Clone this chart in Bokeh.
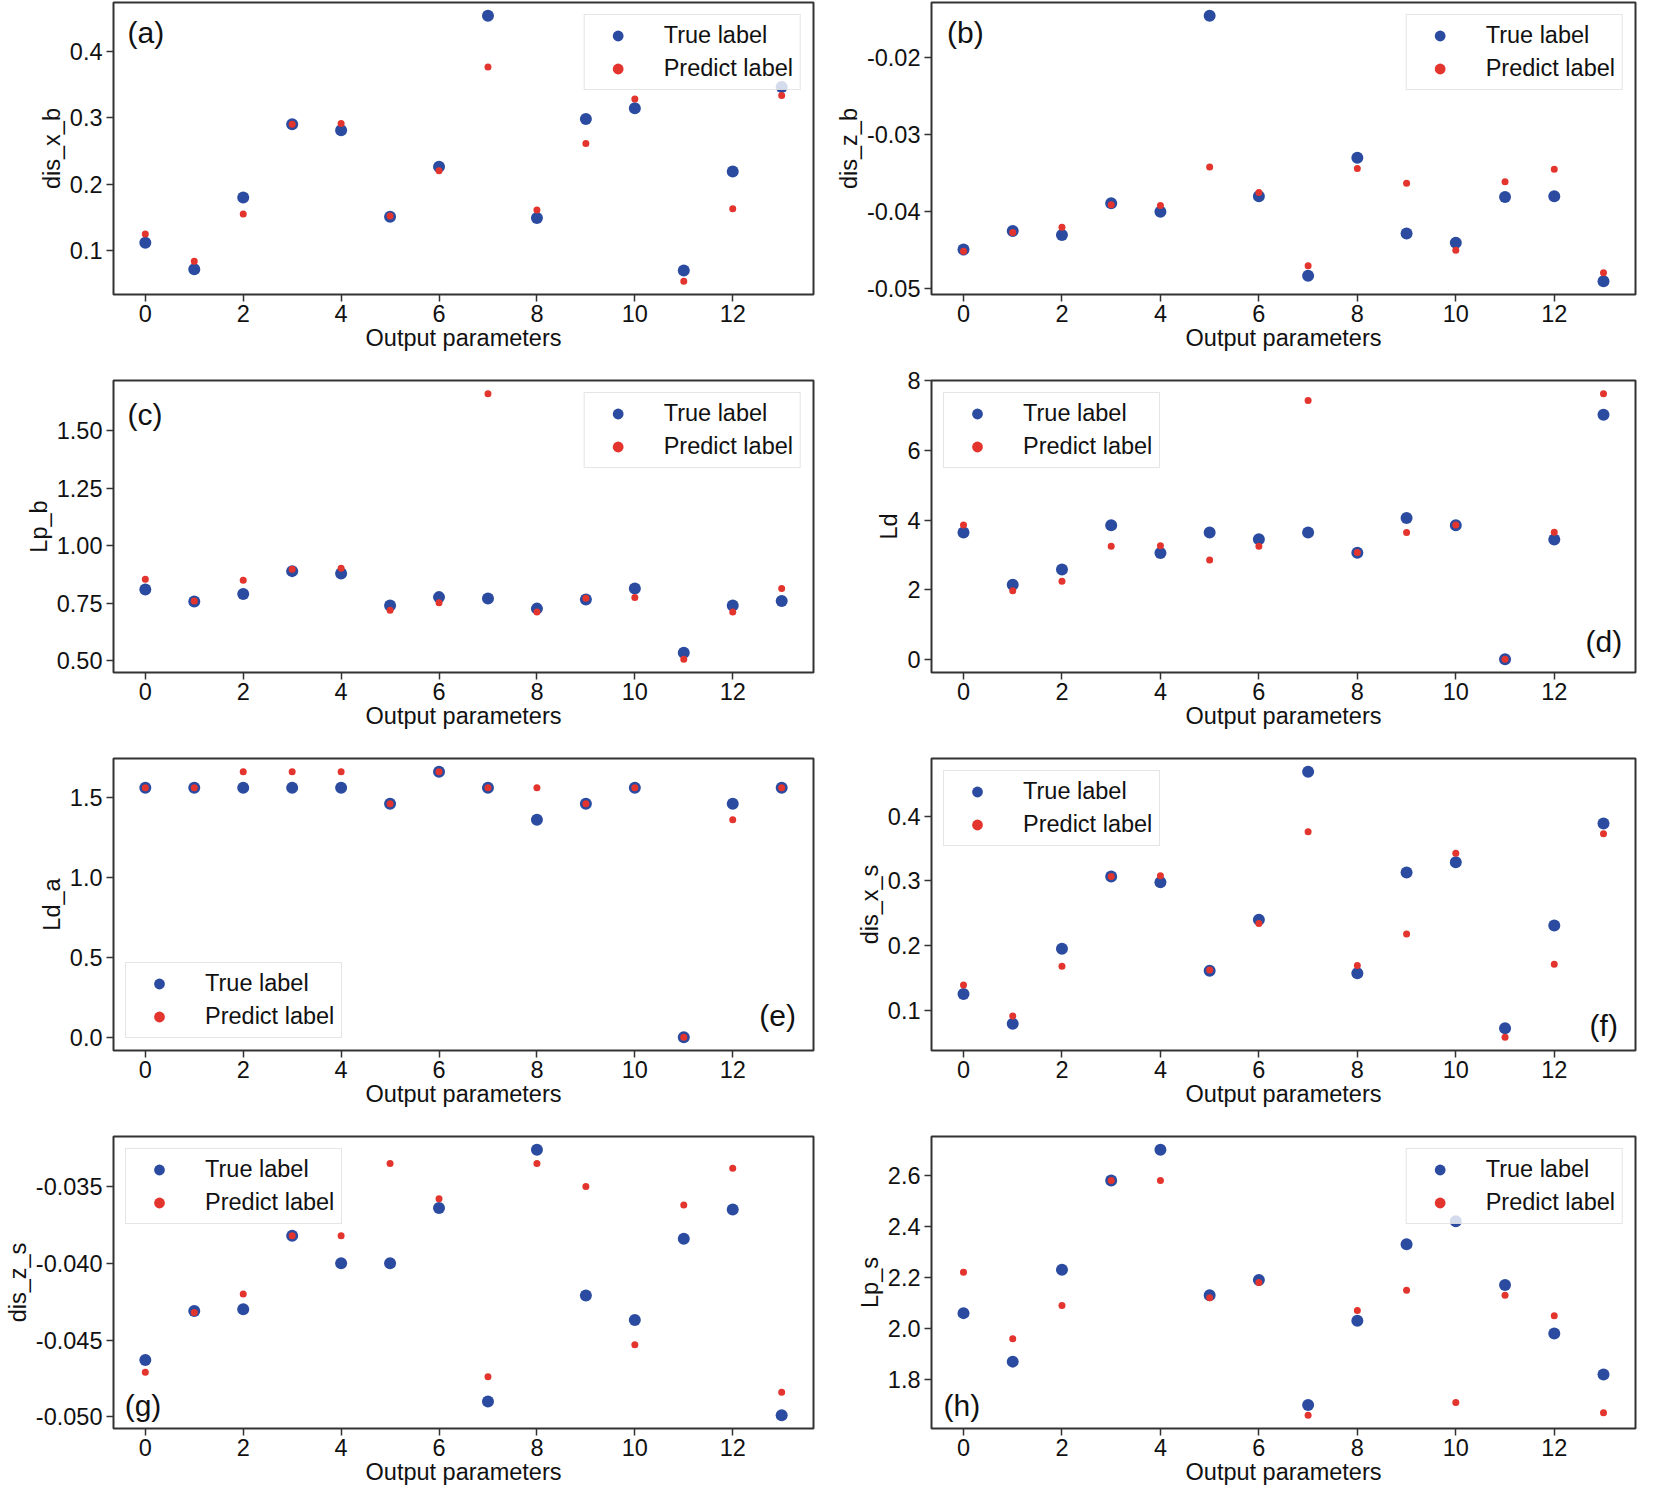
from bokeh.plotting import figure
from bokeh.layouts import column, row
from bokeh.models import FixedTicker, PrintfTickFormatter, Legend, LegendItem, Label
from bokeh.embed import file_html
from bokeh.resources import INLINE

# ---------------- data ----------------
x_params = list(range(14))
x_ticks = [0, 2, 4, 6, 8, 10, 12]
x_label = "Output parameters"
series_labels = ["True label", "Predict label"]

true_a = [0.112, 0.072, 0.180, 0.290, 0.281, 0.151, 0.226, 0.453, 0.149, 0.298, 0.314, 0.070, 0.219, 0.346]
pred_a = [0.125, 0.084, 0.155, 0.290, 0.291, 0.152, 0.220, 0.376, 0.161, 0.261, 0.328, 0.054, 0.163, 0.333]

true_b = [-0.0449, -0.0425, -0.0430, -0.0389, -0.0400, -0.0146, -0.0380, -0.0483, -0.0330, -0.0428, -0.0440, -0.0381, -0.0380, -0.0490]
pred_b = [-0.0451, -0.0427, -0.0420, -0.0391, -0.0392, -0.0342, -0.0375, -0.0470, -0.0344, -0.0363, -0.0450, -0.0361, -0.0345, -0.0479]

true_c = [0.809, 0.757, 0.790, 0.889, 0.879, 0.740, 0.776, 0.770, 0.726, 0.766, 0.813, 0.534, 0.740, 0.759]
pred_c = [0.854, 0.759, 0.849, 0.897, 0.901, 0.719, 0.751, 1.660, 0.711, 0.771, 0.774, 0.506, 0.711, 0.814]

true_d = [3.64, 2.14, 2.58, 3.85, 3.05, 3.64, 3.45, 3.64, 3.06, 4.06, 3.85, 0.0, 3.44, 7.03]
pred_d = [3.86, 1.97, 2.24, 3.25, 3.26, 2.85, 3.25, 7.44, 3.07, 3.64, 3.86, 0.0, 3.65, 7.63]

true_e = [1.56, 1.56, 1.56, 1.56, 1.56, 1.46, 1.66, 1.56, 1.36, 1.46, 1.56, 0.0, 1.46, 1.56]
pred_e = [1.56, 1.56, 1.66, 1.66, 1.66, 1.46, 1.66, 1.56, 1.56, 1.46, 1.56, 0.0, 1.36, 1.56]

true_f = [0.125, 0.079, 0.195, 0.307, 0.298, 0.161, 0.240, 0.469, 0.157, 0.313, 0.329, 0.072, 0.231, 0.389]
pred_f = [0.139, 0.091, 0.168, 0.307, 0.308, 0.162, 0.234, 0.376, 0.169, 0.218, 0.343, 0.058, 0.171, 0.373]

true_g = [-0.0463, -0.0431, -0.0430, -0.0382, -0.0400, -0.0400, -0.0364, -0.0490, -0.0326, -0.0421, -0.0437, -0.0384, -0.0365, -0.0499]
pred_g = [-0.0471, -0.0432, -0.0420, -0.0382, -0.0382, -0.0335, -0.0358, -0.0474, -0.0335, -0.0350, -0.0453, -0.0362, -0.0338, -0.0484]

true_h = [2.06, 1.87, 2.23, 2.58, 2.70, 2.13, 2.19, 1.70, 2.03, 2.33, 2.42, 2.17, 1.98, 1.82]
pred_h = [2.22, 1.96, 2.09, 2.58, 2.58, 2.12, 2.18, 1.66, 2.07, 2.15, 1.71, 2.13, 2.05, 1.67]

yticks_a = [0.1, 0.2, 0.3, 0.4]
yticks_b = [-0.05, -0.04, -0.03, -0.02]
yticks_c = [0.5, 0.75, 1.0, 1.25, 1.5]
yticks_d = [0, 2, 4, 6, 8]
yticks_e = [0.0, 0.5, 1.0, 1.5]
yticks_f = [0.1, 0.2, 0.3, 0.4]
yticks_g = [-0.05, -0.045, -0.04, -0.035]
yticks_h = [1.8, 2.0, 2.2, 2.4, 2.6]

# ---------------- style ----------------
FONT = "Liberation Sans, Arial, sans-serif"
FS = "23.5px"
BLUE = "#2b4ba0"
RED = "#e3352e"
INK = "#111111"
SPINE = "#333333"

panels = [
    dict(tag="a", ylabel="dis_x_b", t=true_a, p=pred_a, yt=yticks_a, fmt="%.1f", leg="top_right",
         anc=("left", "top"), fx=0.02, fy=0.954),
    dict(tag="b", ylabel="dis_z_b", t=true_b, p=pred_b, yt=yticks_b, fmt="%.2f", leg="top_right",
         anc=("left", "top"), fx=0.022, fy=0.954),
    dict(tag="c", ylabel="Lp_b", t=true_c, p=pred_c, yt=yticks_c, fmt="%.2f", leg="top_right",
         anc=("left", "top"), fx=0.02, fy=0.94),
    dict(tag="d", ylabel="Ld", t=true_d, p=pred_d, yt=yticks_d, fmt="%d", leg="top_left",
         anc=("right", "bottom"), fx=0.981, fy=0.05),
    dict(tag="e", ylabel="Ld_a", t=true_e, p=pred_e, yt=yticks_e, fmt="%.1f", leg="bottom_left",
         anc=("right", "bottom"), fx=0.975, fy=0.064),
    dict(tag="f", ylabel="dis_x_s", t=true_f, p=pred_f, yt=yticks_f, fmt="%.1f", leg="top_left",
         anc=("right", "bottom"), fx=0.975, fy=0.03),
    dict(tag="g", ylabel="dis_z_s", t=true_g, p=pred_g, yt=yticks_g, fmt="%.3f", leg="top_left",
         anc=("left", "bottom"), fx=0.016, fy=0.021),
    dict(tag="h", ylabel="Lp_s", t=true_h, p=pred_h, yt=yticks_h, fmt="%.1f", leg="top_right",
         anc=("left", "bottom"), fx=0.017, fy=0.022),
]

FH = 292


def make_panel(cfg, left_col, first_row, last_row):
    t, pr = cfg["t"], cfg["p"]
    lo = min(min(t), min(pr))
    hi = max(max(t), max(pr))
    pad = 0.05 * (hi - lo)
    y0, y1 = lo - pad, hi + pad
    x0, x1 = -0.65, 13.65

    if left_col:
        mbl, fw, mbr = 113, 700, 8
    else:
        mbl, fw, mbr = 110, 704, 2
    mbt = 2 if first_row else 12
    mbb = 64 if last_row else 74

    p = figure(frame_width=fw, frame_height=FH, x_range=(x0, x1), y_range=(y0, y1),
               output_backend="svg", toolbar_location=None, tools="",
               min_border_left=mbl, min_border_right=mbr, min_border_top=mbt, min_border_bottom=mbb,
               background_fill_color="white", border_fill_color="white")

    r1 = p.scatter(x=x_params, y=t, size=12, fill_color=BLUE, line_color=None)
    r2 = p.scatter(x=x_params, y=pr, size=7, fill_color=RED, line_color=None)

    p.xgrid.visible = False
    p.ygrid.visible = False
    p.outline_line_color = SPINE
    p.outline_line_width = 2
    p.outline_line_alpha = 1.0

    p.xaxis.ticker = FixedTicker(ticks=x_ticks, minor_ticks=[])
    p.yaxis.ticker = FixedTicker(ticks=cfg["yt"], minor_ticks=[])
    p.yaxis.formatter = PrintfTickFormatter(format=cfg["fmt"])
    p.xaxis.axis_label = x_label
    p.yaxis.axis_label = cfg["ylabel"]

    for ax in (p.xaxis[0], p.yaxis[0]):
        ax.axis_line_color = None
        ax.major_tick_out = 7
        ax.major_tick_in = 0
        ax.minor_tick_out = 0
        ax.minor_tick_in = 0
        ax.major_tick_line_width = 1.5
        ax.major_tick_line_color = SPINE
        ax.major_label_text_font = FONT
        ax.major_label_text_font_size = FS
        ax.major_label_text_color = INK
        ax.axis_label_text_font = FONT
        ax.axis_label_text_font_size = FS
        ax.axis_label_text_font_style = "normal"
        ax.axis_label_text_color = INK
    p.xaxis.major_label_standoff = 3
    p.xaxis.axis_label_standoff = 0
    p.yaxis.major_label_standoff = 4
    p.yaxis.axis_label_standoff = 2

    legend = Legend(items=[LegendItem(label=series_labels[0], renderers=[r1]),
                           LegendItem(label=series_labels[1], renderers=[r2])],
                    location=cfg["leg"], margin=12, padding=7, spacing=6,
                    glyph_width=52, glyph_height=27, label_standoff=20, label_height=27,
                    label_text_font=FONT, label_text_font_size=FS, label_text_color=INK,
                    border_line_color="#cccccc", border_line_width=1.5,
                    background_fill_color="white", background_fill_alpha=0.8)
    p.add_layout(legend)

    ha, vb = cfg["anc"]
    p.add_layout(Label(x=x0 + cfg["fx"] * (x1 - x0), y=y0 + cfg["fy"] * (y1 - y0),
                       text="(%s)" % cfg["tag"], text_font=FONT, text_font_size="30px",
                       text_color=INK, text_align=ha, text_baseline=vb))
    return p


figs = [make_panel(cfg, i % 2 == 0, i < 2, i >= 6) for i, cfg in enumerate(panels)]
layout = column(*[row(figs[i], figs[i + 1]) for i in range(0, 8, 2)])

open("out.html", "w").write(file_html(layout, INLINE))
